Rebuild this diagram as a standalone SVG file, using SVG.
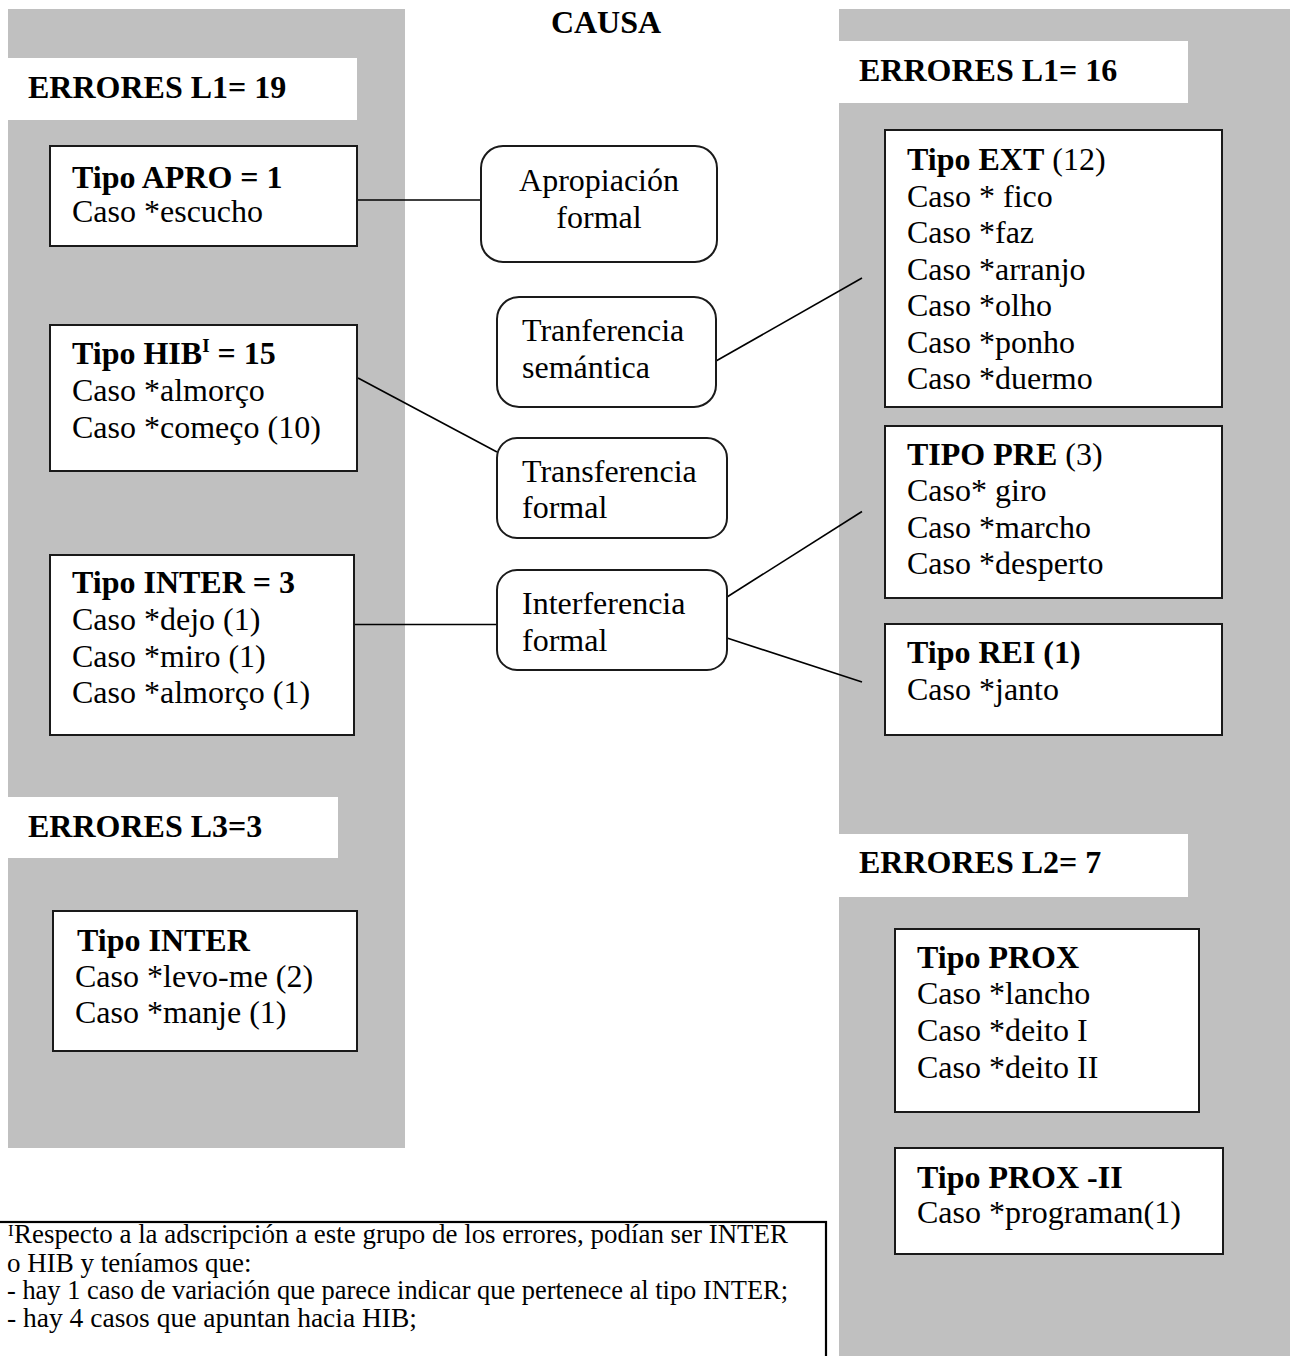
<svg xmlns="http://www.w3.org/2000/svg" width="1290" height="1356" viewBox="0 0 1290 1356">
  <style>
    text { font-family: "Liberation Serif", "Times New Roman", serif; fill: #000; }
    .t { font-size: 32px; }
    .b { font-weight: bold; }
    .panel { fill: #c0c0c0; }
    .label { fill: #ffffff; }
    .box { fill: #ffffff; stroke: #1a1a1a; stroke-width: 2; }
    .cause { fill: #ffffff; stroke: #1a1a1a; stroke-width: 2; }
    .conn line { stroke: #000; stroke-width: 1.6; }
    .note { font-size: 27px; }
  </style>

  <rect width="1290" height="1356" fill="#ffffff"/>

  <!-- grey column backgrounds -->
  <rect class="panel" x="8" y="9" width="397" height="1139"/>
  <rect class="panel" x="839" y="9" width="451" height="1347"/>

  <!-- heading -->
  <text class="t b" x="606" y="33" text-anchor="middle">CAUSA</text>

  <!-- group headers -->
  <g id="hdr-l1-19">
    <rect class="label" x="8" y="58" width="349" height="62"/>
    <text class="t b" x="28" y="98">ERRORES L1= 19</text>
  </g>
  <g id="hdr-l3-3">
    <rect class="label" x="8" y="797" width="330" height="61"/>
    <text class="t b" x="28" y="837">ERRORES L3=3</text>
  </g>
  <g id="hdr-l1-16">
    <rect class="label" x="839" y="41" width="349" height="62"/>
    <text class="t b" x="859" y="81">ERRORES L1= 16</text>
  </g>
  <g id="hdr-l2-7">
    <rect class="label" x="839" y="834" width="349" height="63"/>
    <text class="t b" x="859" y="873">ERRORES L2= 7</text>
  </g>

  <!-- connectors -->
  <g id="connectors" class="conn">
    <line x1="354" y1="200" x2="481" y2="200"/>
    <line x1="358" y1="378" x2="497" y2="452"/>
    <line x1="354" y1="624.5" x2="497" y2="624.5"/>
    <line x1="716" y1="361" x2="862" y2="278"/>
    <line x1="727" y1="597" x2="862" y2="511.5"/>
    <line x1="727" y1="638" x2="862" y2="682"/>
  </g>

  <!-- left column: L1 types -->
  <g id="tipo-apro">
    <rect class="box" x="50" y="146" width="307" height="100"/>
    <text class="t b" x="72" y="188">Tipo APRO = 1</text>
    <text class="t" x="72" y="222">Caso *escucho</text>
  </g>
  <g id="tipo-hib">
    <rect class="box" x="50" y="325" width="307" height="146"/>
    <text class="t" x="72" y="364"><tspan class="b">Tipo HIB</tspan><tspan class="b" font-size="19" dy="-12">I</tspan><tspan class="b" dy="12"> = 15</tspan></text>
    <text class="t" x="72" y="401">Caso *almorço</text>
    <text class="t" x="72" y="438">Caso *começo (10)</text>
  </g>
  <g id="tipo-inter">
    <rect class="box" x="50" y="555" width="304" height="180"/>
    <text class="t b" x="72" y="593">Tipo INTER = 3</text>
    <text class="t" x="72" y="630">Caso *dejo (1)</text>
    <text class="t" x="72" y="667">Caso *miro (1)</text>
    <text class="t" x="72" y="703">Caso *almorço (1)</text>
  </g>

  <!-- left column: L3 type -->
  <g id="tipo-inter-l3">
    <rect class="box" x="53" y="911" width="304" height="140"/>
    <text class="t b" x="77" y="951">Tipo INTER</text>
    <text class="t" x="75" y="987">Caso *levo-me (2)</text>
    <text class="t" x="75" y="1023">Caso *manje (1)</text>
  </g>

  <!-- centre column: causes -->
  <g id="causa-apropiacion">
    <rect class="cause" x="481" y="146" width="236" height="116" rx="22"/>
    <text class="t" x="599" y="191" text-anchor="middle">Apropiación</text>
    <text class="t" x="599" y="228" text-anchor="middle">formal</text>
  </g>
  <g id="causa-tranferencia-semantica">
    <rect class="cause" x="497" y="297" width="219" height="110" rx="22"/>
    <text class="t" x="522" y="341">Tranferencia</text>
    <text class="t" x="522" y="378">semántica</text>
  </g>
  <g id="causa-transferencia-formal">
    <rect class="cause" x="497" y="438" width="230" height="100" rx="20"/>
    <text class="t" x="522" y="482">Transferencia</text>
    <text class="t" x="522" y="518">formal</text>
  </g>
  <g id="causa-interferencia-formal">
    <rect class="cause" x="497" y="570" width="230" height="100" rx="20"/>
    <text class="t" x="522" y="614">Interferencia</text>
    <text class="t" x="522" y="651">formal</text>
  </g>

  <!-- right column: L1 types -->
  <g id="tipo-ext">
    <rect class="box" x="885" y="130" width="337" height="277"/>
    <text class="t" x="907" y="170"><tspan class="b">Tipo EXT</tspan> (12)</text>
    <text class="t" x="907" y="206.5">Caso * fico</text>
    <text class="t" x="907" y="243">Caso *faz</text>
    <text class="t" x="907" y="279.5">Caso *arranjo</text>
    <text class="t" x="907" y="316">Caso *olho</text>
    <text class="t" x="907" y="352.5">Caso *ponho</text>
    <text class="t" x="907" y="389">Caso *duermo</text>
  </g>
  <g id="tipo-pre">
    <rect class="box" x="885" y="426" width="337" height="172"/>
    <text class="t" x="907" y="465"><tspan class="b">TIPO PRE</tspan> (3)</text>
    <text class="t" x="907" y="501">Caso* giro</text>
    <text class="t" x="907" y="538">Caso *marcho</text>
    <text class="t" x="907" y="574">Caso *desperto</text>
  </g>
  <g id="tipo-rei">
    <rect class="box" x="885" y="624" width="337" height="111"/>
    <text class="t b" x="907" y="663">Tipo REI (1)</text>
    <text class="t" x="907" y="700">Caso *janto</text>
  </g>

  <!-- right column: L2 types -->
  <g id="tipo-prox">
    <rect class="box" x="895" y="929" width="304" height="183"/>
    <text class="t b" x="917" y="968">Tipo PROX</text>
    <text class="t" x="917" y="1004">Caso *lancho</text>
    <text class="t" x="917" y="1041">Caso *deito I</text>
    <text class="t" x="917" y="1078">Caso *deito II</text>
  </g>
  <g id="tipo-prox-ii">
    <rect class="box" x="895" y="1148" width="328" height="106"/>
    <text class="t b" x="917" y="1188">Tipo PROX -II</text>
    <text class="t" x="917" y="1223">Caso *programan(1)</text>
  </g>

  <!-- footnote -->
  <g id="footnote">
    <rect x="-2" y="1222" width="828" height="160" fill="#ffffff" stroke="#000" stroke-width="2.2"/>
    <text font-size="17" x="8" y="1236">I</text>
    <text class="note" x="14" y="1243" textLength="774" lengthAdjust="spacingAndGlyphs">Respecto a la adscripción a este grupo de los errores, podían ser INTER</text>
    <text class="note" x="7" y="1271.5">o HIB y teníamos que:</text>
    <text class="note" x="7" y="1299" textLength="781" lengthAdjust="spacingAndGlyphs">- hay 1 caso de variación que parece indicar que pertenece al tipo INTER;</text>
    <text class="note" x="7" y="1326.5" textLength="410" lengthAdjust="spacingAndGlyphs">- hay 4 casos que apuntan hacia HIB;</text>
  </g>
</svg>
